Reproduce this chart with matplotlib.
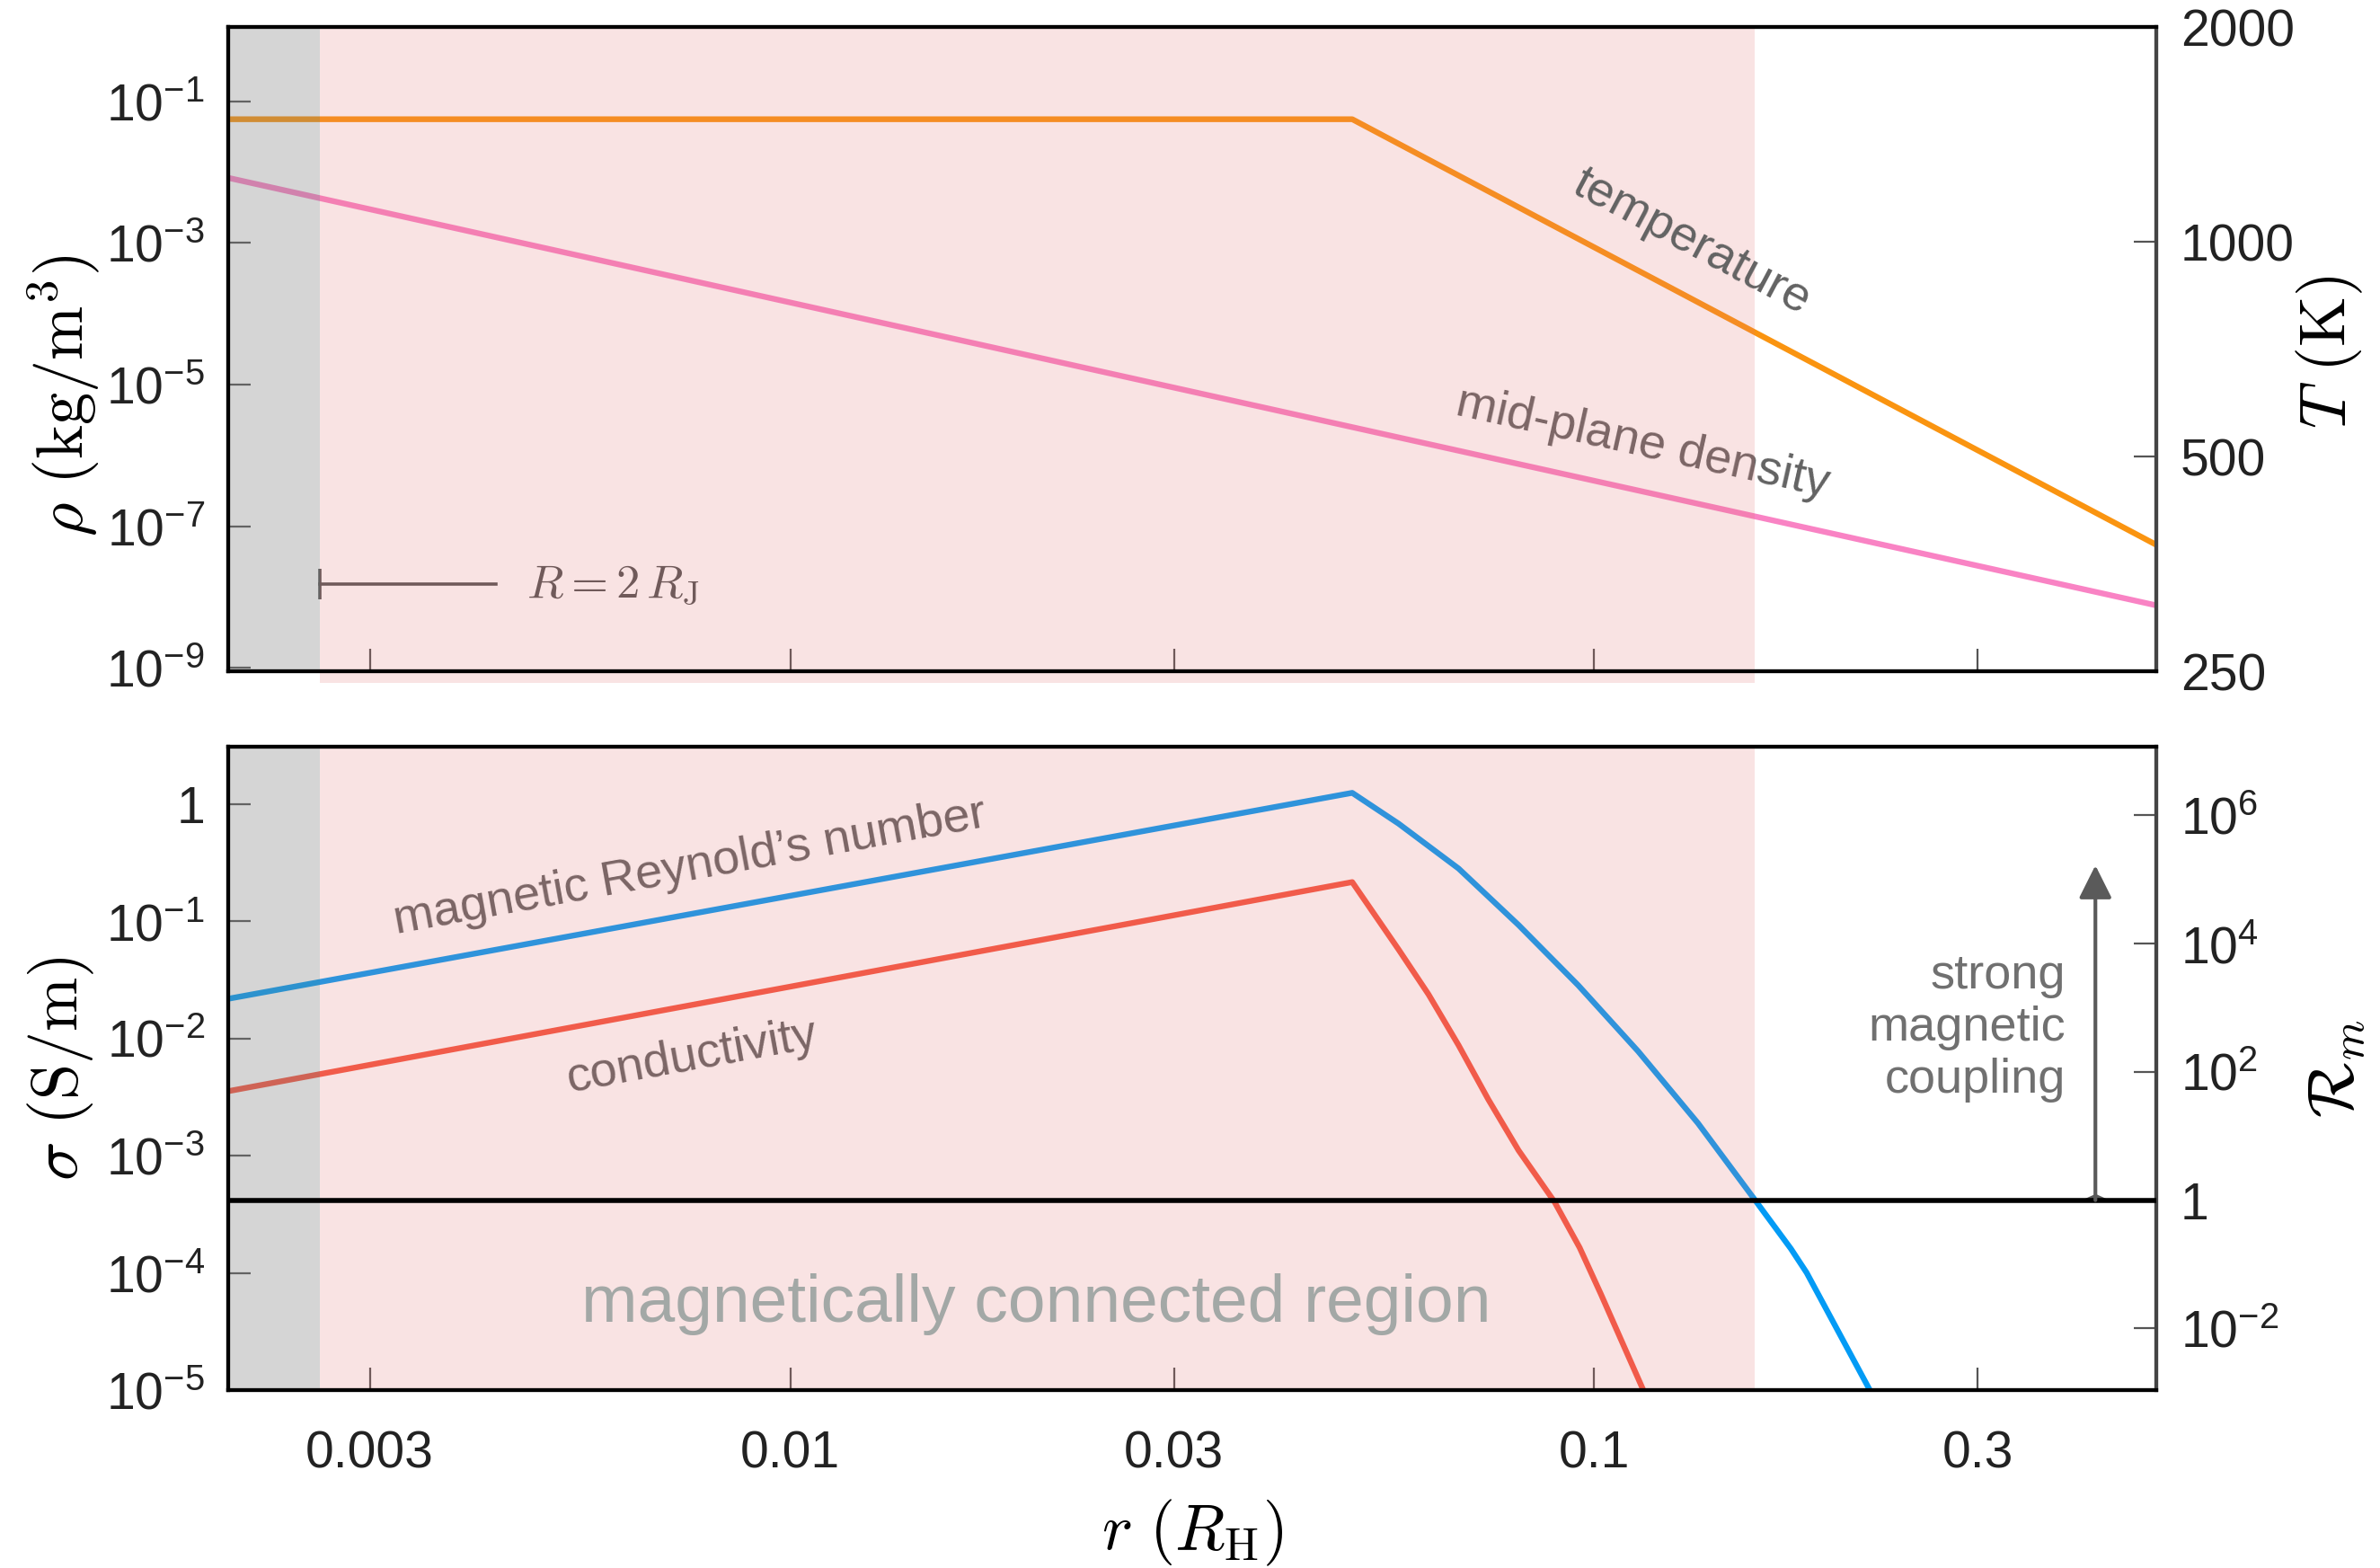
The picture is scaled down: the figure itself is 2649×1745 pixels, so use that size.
import numpy as np
import matplotlib
matplotlib.use("Agg")
import matplotlib.pyplot as plt
from matplotlib.ticker import FixedLocator, FuncFormatter, NullLocator, NullFormatter
from matplotlib.patches import Rectangle
from matplotlib.path import Path

plt.rcParams['font.family'] = ['Liberation Sans', 'DejaVu Sans']
plt.rcParams['mathtext.fontset'] = 'custom'
plt.rcParams['mathtext.rm'] = 'Liberation Sans'
plt.rcParams['mathtext.it'] = 'Liberation Sans:italic'
plt.rcParams['mathtext.bf'] = 'Liberation Sans:bold'

# values
r_temp = [0.002, 0.05, 0.5]
temp = [1485, 1485, 376]                       # K
r_dens = [0.002, 0.05, 0.5]
dens = [8.3e-3, 2.5e-6, 7.6e-9]                # kg/m^3
r_sigma = [0.002, 0.05, 0.0571, 0.0622, 0.0678, 0.0738, 0.0805, 0.0892,
           0.0959, 0.1019, 0.1156]
sigma = [3.55e-3, 0.216, 0.0574, 0.0238, 8.75e-3, 3.03e-3, 1.11e-3, 4.05e-4,
         1.64e-4, 6.6e-5, 9.3e-6]             # S/m
r_rm = [0.002, 0.05, 0.0571, 0.0678, 0.0805, 0.0955, 0.1134, 0.1346, 0.1585,
        0.1756, 0.1837, 0.221]
rm = [1.38e3, 2.24e6, 7.41e5, 1.48e5, 1.95e4, 2.24e3, 209, 15.8, 1.0,
      0.175, 0.074, 1.0e-3]

r_planet = 0.0026    # R = 2 R_J
r_connect = 0.1585   # outer edge of magnetically connected region (Rm = 1)

xticks = [0.003, 0.01, 0.03, 0.1, 0.3]
xticklabels = ['0.003', '0.01', '0.03', '0.1', '0.3']
rho_ticks = [1e-1, 1e-3, 1e-5, 1e-7, 1e-9]
T_ticks = [250, 500, 1000, 2000]
sigma_ticks = [1, 1e-1, 1e-2, 1e-3, 1e-4, 1e-5]
rm_ticks = [1e6, 1e4, 1e2, 1, 1e-2]


def pow_label(v, pos=None):
    e = int(round(np.log10(v)))
    return '1' if e == 0 else r'$10^{%d}$' % e


fig = plt.figure(figsize=(13.245, 8.725), dpi=200)
ax1 = fig.add_axes([0.0959, 0.5719, 0.8101, 0.4109])
ax3 = fig.add_axes([0.0959, 0.1135, 0.8101, 0.4103])
ax2 = ax1.twinx()
ax4 = ax3.twinx()

tick_col = '#555555'
for ax in (ax1, ax2, ax3, ax4):
    ax.set_xscale('log')
    ax.set_yscale('log')
    ax.set_xlim(0.002, 0.5)
    ax.xaxis.set_major_locator(FixedLocator(xticks))
    ax.xaxis.set_minor_locator(NullLocator())
    ax.yaxis.set_minor_locator(NullLocator())
    ax.yaxis.set_minor_formatter(NullFormatter())
    ax.tick_params(which='both', direction='in', length=9, width=0.8,
                   color=tick_col, labelsize=20.5, labelcolor='#222222')
    for s in ax.spines.values():
        s.set_linewidth(1.5)
        s.set_color('black')
    ax.spines['right'].set_color('#444444')

ax1.tick_params(axis='x', labelbottom=False)
ax3.set_xticklabels(xticklabels)
ax3.tick_params(axis='x', pad=16)
ax1.tick_params(axis='y', pad=9.4)
ax3.tick_params(axis='y', pad=9.4)
ax2.tick_params(axis='y', pad=9.7)
ax4.tick_params(axis='y', pad=9.7)

# top panel
ax1.set_ylim(10 ** -9.05, 10 ** 0.05)
ax1.yaxis.set_major_locator(FixedLocator(rho_ticks))
ax1.yaxis.set_major_formatter(FuncFormatter(pow_label))
ax2.set_ylim(250, 2000)
ax2.yaxis.set_major_locator(FixedLocator(T_ticks))
ax2.yaxis.set_major_formatter(FuncFormatter(lambda v, p: '%d' % v))

ax1.plot(r_dens, dens, color='#F983C4', lw=2.3)
ax2.plot(r_temp, temp, color='#FA9410', lw=2.3)

# bottom panel
ax3.set_ylim(1e-5, 10 ** 0.49)
ax3.yaxis.set_major_locator(FixedLocator(sigma_ticks))
ax3.yaxis.set_major_formatter(FuncFormatter(pow_label))
ax4.set_ylim(10 ** -2.96, 10 ** 7.07)
ax4.yaxis.set_major_locator(FixedLocator(rm_ticks))
ax4.yaxis.set_major_formatter(FuncFormatter(pow_label))

ax3.plot(r_sigma, sigma, color='#F65640', lw=2.3)
ax4.plot(r_rm, rm, color='#039BF5', lw=2.3)
ax4.axhline(1, color='black', lw=2.0, zorder=3)

# shaded regions drawn over the curves
for axt, y0 in ((ax2, -0.018), (ax4, 0.0)):
    tr = axt.get_xaxis_transform()
    axt.add_patch(Rectangle((0.002, 0), r_planet - 0.002, 1, transform=tr,
                            facecolor='#808080', alpha=0.33, lw=0, zorder=2.2))
    axt.add_patch(Rectangle((r_planet, y0), r_connect - r_planet, 1 - y0,
                            transform=tr, facecolor='#E17373', alpha=0.2,
                            lw=0, zorder=2.2, clip_on=False))

# axis labels
ax1.set_ylabel(r'$\rho\ (\mathrm{kg/m^3})$', fontsize=26, math_fontfamily='cm')
ax1.yaxis.set_label_coords(-0.0853, 0.427)
ax2.set_ylabel(r'$T\ (\mathrm{K})$', fontsize=26, math_fontfamily='cm')
ax2.yaxis.set_label_coords(1.0899, 0.495)
ax3.set_ylabel(r'$\sigma\ (\mathrm{S/m})$', fontsize=26, math_fontfamily='cm')
ax3.yaxis.set_label_coords(-0.0867, 0.5)
ax4.set_ylabel(r'$\mathcal{R}_m$', fontsize=26, math_fontfamily='cm')
ax4.yaxis.set_label_coords(1.0937, 0.5)
ax3.set_xlabel(r'$r\ (R_\mathrm{H})$', fontsize=26, math_fontfamily='cm')
ax3.xaxis.set_label_coords(0.5, -0.222)
for lab in (ax1.yaxis.label, ax2.yaxis.label, ax3.yaxis.label,
            ax4.yaxis.label, ax3.xaxis.label):
    lab.set_va('center')
    lab.set_ha('center')

# annotations
txt = '#626262'
ax2.text(0.132, 998, 'temperature', fontsize=19.5, color=txt,
         rotation=-28, ha='center', va='center', zorder=3)
ax1.text(0.115, 1.49e-6, 'mid-plane density', fontsize=19.5, color=txt,
         rotation=-12.5, ha='center', va='center')
ax1.plot([r_planet, 0.0043], [1.5e-8, 1.5e-8], color='#555555', lw=1.3)
ax1.plot([r_planet], [1.5e-8], marker='|', ms=12, mew=1.3, color='#555555')
ax1.text(0.0047, 1.5e-8, r'$R = 2\,R_\mathrm{J}$', fontsize=19,
         math_fontfamily='cm', color='#555555', va='center')

ax3.text(0.0075, 0.285, 'magnetic Reynold\u2019s number', fontsize=19.5,
         color=txt, rotation=10.3, ha='center', va='center')
ax3.text(0.00755, 6.98e-3, 'conductivity', fontsize=19.5, color=txt,
         rotation=10.3, ha='center', va='center')
# same spot expressed on the Rm axis so the text sits over the shading
ax4.text(0.0202, 10 ** -1.9, 'magnetically connected region', fontsize=27,
         color='#A3A8A6', ha='center', va='baseline', zorder=3)
ax3.text(0.386, 0.0123, 'strong\nmagnetic\ncoupling', fontsize=19.5,
         color='#707070', ha='right', va='center', multialignment='right',
         linespacing=1.2)
ax4.annotate('', xy=(0.42, 1.66e5), xytext=(0.42, 1),
             arrowprops=dict(arrowstyle='-|>', color='#5A5A5A', lw=1.5,
                             mutation_scale=28, shrinkA=0, shrinkB=0))
foot = Path([(-1, 0), (1, 0), (0, 0.45), (-1, 0)])
ax4.plot([0.42], [1], marker=foot, ms=10, color='#5A5A5A', zorder=2.9)

fig.savefig('out.png', dpi=200)
